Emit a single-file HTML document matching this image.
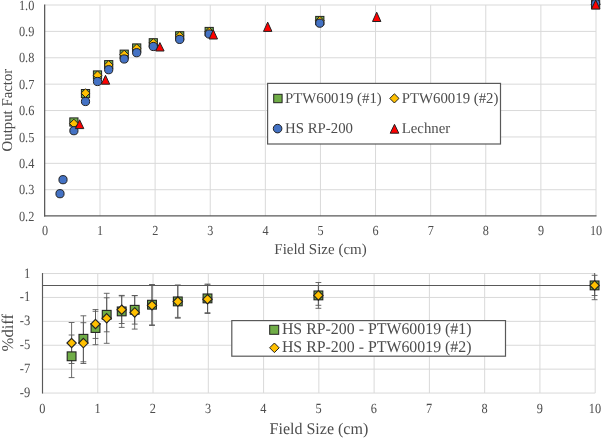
<!DOCTYPE html>
<html><head><meta charset="utf-8"><title>chart</title>
<style>html,body{margin:0;padding:0;background:#fff}svg{will-change:transform}text{text-rendering:geometricPrecision}body{width:602px;height:438px;overflow:hidden;font-family:"Liberation Serif",serif}</style></head>
<body>
<svg width="602" height="438" viewBox="0 0 602 438" style="display:block;font-family:'Liberation Serif',serif">
<rect width="602" height="438" fill="#fff"/>
<line x1="100.01" y1="5.00" x2="100.01" y2="216.12" stroke="#d9d9d9" stroke-width="1"/>
<line x1="155.12" y1="5.00" x2="155.12" y2="216.12" stroke="#d9d9d9" stroke-width="1"/>
<line x1="210.23" y1="5.00" x2="210.23" y2="216.12" stroke="#d9d9d9" stroke-width="1"/>
<line x1="265.34" y1="5.00" x2="265.34" y2="216.12" stroke="#d9d9d9" stroke-width="1"/>
<line x1="320.45" y1="5.00" x2="320.45" y2="216.12" stroke="#d9d9d9" stroke-width="1"/>
<line x1="375.56" y1="5.00" x2="375.56" y2="216.12" stroke="#d9d9d9" stroke-width="1"/>
<line x1="430.67" y1="5.00" x2="430.67" y2="216.12" stroke="#d9d9d9" stroke-width="1"/>
<line x1="485.78" y1="5.00" x2="485.78" y2="216.12" stroke="#d9d9d9" stroke-width="1"/>
<line x1="540.89" y1="5.00" x2="540.89" y2="216.12" stroke="#d9d9d9" stroke-width="1"/>
<line x1="596.00" y1="5.00" x2="596.00" y2="216.12" stroke="#d9d9d9" stroke-width="1"/>
<line x1="44.90" y1="189.73" x2="596.00" y2="189.73" stroke="#d9d9d9" stroke-width="1"/>
<line x1="44.90" y1="163.34" x2="596.00" y2="163.34" stroke="#d9d9d9" stroke-width="1"/>
<line x1="44.90" y1="136.95" x2="596.00" y2="136.95" stroke="#d9d9d9" stroke-width="1"/>
<line x1="44.90" y1="110.56" x2="596.00" y2="110.56" stroke="#d9d9d9" stroke-width="1"/>
<line x1="44.90" y1="84.17" x2="596.00" y2="84.17" stroke="#d9d9d9" stroke-width="1"/>
<line x1="44.90" y1="57.78" x2="596.00" y2="57.78" stroke="#d9d9d9" stroke-width="1"/>
<line x1="44.90" y1="31.39" x2="596.00" y2="31.39" stroke="#d9d9d9" stroke-width="1"/>
<line x1="44.90" y1="5.00" x2="596.00" y2="5.00" stroke="#d9d9d9" stroke-width="1"/>
<line x1="44.65" y1="4.40" x2="44.65" y2="216.45" stroke="#595959" stroke-width="1.25"/>
<line x1="44.05" y1="215.85" x2="596.50" y2="215.85" stroke="#595959" stroke-width="1.25"/>
<text transform="translate(34.30,220.72) scale(0.887,1)" font-size="13.9" fill="#4d4d4d" text-anchor="end">0.2</text>
<text transform="translate(34.30,194.33) scale(0.887,1)" font-size="13.9" fill="#4d4d4d" text-anchor="end">0.3</text>
<text transform="translate(34.30,167.94) scale(0.887,1)" font-size="13.9" fill="#4d4d4d" text-anchor="end">0.4</text>
<text transform="translate(34.30,141.55) scale(0.887,1)" font-size="13.9" fill="#4d4d4d" text-anchor="end">0.5</text>
<text transform="translate(34.30,115.16) scale(0.887,1)" font-size="13.9" fill="#4d4d4d" text-anchor="end">0.6</text>
<text transform="translate(34.30,88.77) scale(0.887,1)" font-size="13.9" fill="#4d4d4d" text-anchor="end">0.7</text>
<text transform="translate(34.30,62.38) scale(0.887,1)" font-size="13.9" fill="#4d4d4d" text-anchor="end">0.8</text>
<text transform="translate(34.30,35.99) scale(0.887,1)" font-size="13.9" fill="#4d4d4d" text-anchor="end">0.9</text>
<text transform="translate(34.30,9.60) scale(0.887,1)" font-size="13.9" fill="#4d4d4d" text-anchor="end">1.0</text>
<text transform="translate(45.00,234.85) scale(0.883,1)" font-size="13.8" fill="#4d4d4d" text-anchor="middle">0</text>
<text transform="translate(100.11,234.85) scale(0.883,1)" font-size="13.8" fill="#4d4d4d" text-anchor="middle">1</text>
<text transform="translate(155.22,234.85) scale(0.883,1)" font-size="13.8" fill="#4d4d4d" text-anchor="middle">2</text>
<text transform="translate(210.33,234.85) scale(0.883,1)" font-size="13.8" fill="#4d4d4d" text-anchor="middle">3</text>
<text transform="translate(265.44,234.85) scale(0.883,1)" font-size="13.8" fill="#4d4d4d" text-anchor="middle">4</text>
<text transform="translate(320.55,234.85) scale(0.883,1)" font-size="13.8" fill="#4d4d4d" text-anchor="middle">5</text>
<text transform="translate(375.66,234.85) scale(0.883,1)" font-size="13.8" fill="#4d4d4d" text-anchor="middle">6</text>
<text transform="translate(430.77,234.85) scale(0.883,1)" font-size="13.8" fill="#4d4d4d" text-anchor="middle">7</text>
<text transform="translate(485.88,234.85) scale(0.883,1)" font-size="13.8" fill="#4d4d4d" text-anchor="middle">8</text>
<text transform="translate(540.99,234.85) scale(0.883,1)" font-size="13.8" fill="#4d4d4d" text-anchor="middle">9</text>
<text transform="translate(596.10,234.85) scale(0.883,1)" font-size="13.8" fill="#4d4d4d" text-anchor="middle">10</text>
<text transform="translate(320.50,254.30) scale(0.996,1)" font-size="15.05" fill="#4d4d4d" text-anchor="middle">Field Size (cm)</text>
<text transform="translate(11.60,110.10) rotate(-90) scale(0.985,1)" font-size="15.05" fill="#4d4d4d" text-anchor="middle">Output Factor</text>
<rect x="69.80" y="117.90" width="8.2" height="8.2" fill="#70ad47" stroke="#222222" stroke-width="1.0"/>
<rect x="81.40" y="89.50" width="8.2" height="8.2" fill="#70ad47" stroke="#222222" stroke-width="1.0"/>
<rect x="93.40" y="70.90" width="8.2" height="8.2" fill="#70ad47" stroke="#222222" stroke-width="1.0"/>
<rect x="104.60" y="60.60" width="8.2" height="8.2" fill="#70ad47" stroke="#222222" stroke-width="1.0"/>
<rect x="120.10" y="50.10" width="8.2" height="8.2" fill="#70ad47" stroke="#222222" stroke-width="1.0"/>
<rect x="132.60" y="43.90" width="8.2" height="8.2" fill="#70ad47" stroke="#222222" stroke-width="1.0"/>
<rect x="149.20" y="38.70" width="8.2" height="8.2" fill="#70ad47" stroke="#222222" stroke-width="1.0"/>
<rect x="175.60" y="31.70" width="8.2" height="8.2" fill="#70ad47" stroke="#222222" stroke-width="1.0"/>
<rect x="205.10" y="27.40" width="8.2" height="8.2" fill="#70ad47" stroke="#222222" stroke-width="1.0"/>
<rect x="315.70" y="16.40" width="8.2" height="8.2" fill="#70ad47" stroke="#222222" stroke-width="1.0"/>
<rect x="591.50" y="0.60" width="8.2" height="8.2" fill="#70ad47" stroke="#222222" stroke-width="1.0"/>
<path d="M73.90 119.20L78.30 123.60L73.90 128.00L69.50 123.60Z" fill="#ffc000" stroke="#222222" stroke-width="1.0" stroke-linejoin="miter"/>
<path d="M85.50 88.70L89.90 93.10L85.50 97.50L81.10 93.10Z" fill="#ffc000" stroke="#222222" stroke-width="1.0" stroke-linejoin="miter"/>
<path d="M97.50 70.90L101.90 75.30L97.50 79.70L93.10 75.30Z" fill="#ffc000" stroke="#222222" stroke-width="1.0" stroke-linejoin="miter"/>
<path d="M108.70 60.60L113.10 65.00L108.70 69.40L104.30 65.00Z" fill="#ffc000" stroke="#222222" stroke-width="1.0" stroke-linejoin="miter"/>
<path d="M124.20 50.20L128.60 54.60L124.20 59.00L119.80 54.60Z" fill="#ffc000" stroke="#222222" stroke-width="1.0" stroke-linejoin="miter"/>
<path d="M136.70 43.90L141.10 48.30L136.70 52.70L132.30 48.30Z" fill="#ffc000" stroke="#222222" stroke-width="1.0" stroke-linejoin="miter"/>
<path d="M153.30 38.60L157.70 43.00L153.30 47.40L148.90 43.00Z" fill="#ffc000" stroke="#222222" stroke-width="1.0" stroke-linejoin="miter"/>
<path d="M179.70 31.60L184.10 36.00L179.70 40.40L175.30 36.00Z" fill="#ffc000" stroke="#222222" stroke-width="1.0" stroke-linejoin="miter"/>
<path d="M209.20 27.30L213.60 31.70L209.20 36.10L204.80 31.70Z" fill="#ffc000" stroke="#222222" stroke-width="1.0" stroke-linejoin="miter"/>
<path d="M319.80 16.30L324.20 20.70L319.80 25.10L315.40 20.70Z" fill="#ffc000" stroke="#222222" stroke-width="1.0" stroke-linejoin="miter"/>
<path d="M595.60 0.20L600.00 4.60L595.60 9.00L591.20 4.60Z" fill="#ffc000" stroke="#222222" stroke-width="1.0" stroke-linejoin="miter"/>
<circle cx="60.00" cy="193.70" r="4.1" fill="#4472c4" stroke="#222222" stroke-width="1.0"/>
<circle cx="63.00" cy="179.70" r="4.1" fill="#4472c4" stroke="#222222" stroke-width="1.0"/>
<circle cx="73.90" cy="130.70" r="4.1" fill="#4472c4" stroke="#222222" stroke-width="1.0"/>
<circle cx="85.50" cy="101.50" r="4.1" fill="#4472c4" stroke="#222222" stroke-width="1.0"/>
<circle cx="97.50" cy="81.50" r="4.1" fill="#4472c4" stroke="#222222" stroke-width="1.0"/>
<circle cx="108.70" cy="69.70" r="4.1" fill="#4472c4" stroke="#222222" stroke-width="1.0"/>
<circle cx="124.20" cy="59.00" r="4.1" fill="#4472c4" stroke="#222222" stroke-width="1.0"/>
<circle cx="136.70" cy="52.70" r="4.1" fill="#4472c4" stroke="#222222" stroke-width="1.0"/>
<circle cx="153.30" cy="46.50" r="4.1" fill="#4472c4" stroke="#222222" stroke-width="1.0"/>
<circle cx="179.70" cy="39.40" r="4.1" fill="#4472c4" stroke="#222222" stroke-width="1.0"/>
<circle cx="209.20" cy="34.00" r="4.1" fill="#4472c4" stroke="#222222" stroke-width="1.0"/>
<circle cx="319.80" cy="23.20" r="4.1" fill="#4472c4" stroke="#222222" stroke-width="1.0"/>
<circle cx="595.60" cy="3.70" r="4.1" fill="#4472c4" stroke="#222222" stroke-width="1.0"/>
<path d="M79.60 119.80L83.80 128.60L75.40 128.60Z" fill="#ff0000" stroke="#222222" stroke-width="1.0" stroke-linejoin="miter"/>
<path d="M105.50 75.30L109.70 84.20L101.30 84.20Z" fill="#ff0000" stroke="#222222" stroke-width="1.0" stroke-linejoin="miter"/>
<path d="M159.90 42.60L164.10 51.00L155.70 51.00Z" fill="#ff0000" stroke="#222222" stroke-width="1.0" stroke-linejoin="miter"/>
<path d="M213.30 29.80L217.50 39.00L209.10 39.00Z" fill="#ff0000" stroke="#222222" stroke-width="1.0" stroke-linejoin="miter"/>
<path d="M267.70 22.10L271.90 31.40L263.50 31.40Z" fill="#ff0000" stroke="#222222" stroke-width="1.0" stroke-linejoin="miter"/>
<path d="M376.70 12.20L380.90 21.50L372.50 21.50Z" fill="#ff0000" stroke="#222222" stroke-width="1.0" stroke-linejoin="miter"/>
<path d="M595.70 0.00L599.90 9.00L591.50 9.00Z" fill="#ff0000" stroke="#222222" stroke-width="1.0" stroke-linejoin="miter"/>
<rect x="267.6" y="83.4" width="232.9" height="60.6" fill="#fff" stroke="#595959" stroke-width="1.2"/>
<rect x="273.70" y="94.30" width="8.4" height="8.4" fill="#70ad47" stroke="#222222" stroke-width="1.0"/>
<path d="M394.40 93.80L399.00 98.40L394.40 103.00L389.80 98.40Z" fill="#ffc000" stroke="#222222" stroke-width="1.0" stroke-linejoin="miter"/>
<circle cx="277.60" cy="128.60" r="4.3" fill="#4472c4" stroke="#222222" stroke-width="1.0"/>
<path d="M394.50 124.30L398.80 133.20L390.20 133.20Z" fill="#ff0000" stroke="#222222" stroke-width="1.0" stroke-linejoin="miter"/>
<text transform="translate(285.00,103.20) scale(0.985,1)" font-size="15.05" fill="#4d4d4d" text-anchor="start">PTW60019 (#1)</text>
<text transform="translate(401.70,103.20) scale(0.985,1)" font-size="15.05" fill="#4d4d4d" text-anchor="start">PTW60019 (#2)</text>
<text transform="translate(285.00,133.20) scale(0.985,1)" font-size="15.05" fill="#4d4d4d" text-anchor="start">HS RP-200</text>
<text transform="translate(401.70,133.20) scale(0.985,1)" font-size="15.05" fill="#4d4d4d" text-anchor="start">Lechner</text>
<defs><clipPath id="bc"><rect x="40" y="272.9" width="562" height="125"/></clipPath></defs>
<line x1="97.77" y1="273.55" x2="97.77" y2="393.05" stroke="#d9d9d9" stroke-width="1"/>
<line x1="153.04" y1="273.55" x2="153.04" y2="393.05" stroke="#d9d9d9" stroke-width="1"/>
<line x1="208.31" y1="273.55" x2="208.31" y2="393.05" stroke="#d9d9d9" stroke-width="1"/>
<line x1="263.58" y1="273.55" x2="263.58" y2="393.05" stroke="#d9d9d9" stroke-width="1"/>
<line x1="318.85" y1="273.55" x2="318.85" y2="393.05" stroke="#d9d9d9" stroke-width="1"/>
<line x1="374.12" y1="273.55" x2="374.12" y2="393.05" stroke="#d9d9d9" stroke-width="1"/>
<line x1="429.39" y1="273.55" x2="429.39" y2="393.05" stroke="#d9d9d9" stroke-width="1"/>
<line x1="484.66" y1="273.55" x2="484.66" y2="393.05" stroke="#d9d9d9" stroke-width="1"/>
<line x1="539.93" y1="273.55" x2="539.93" y2="393.05" stroke="#d9d9d9" stroke-width="1"/>
<line x1="595.20" y1="273.55" x2="595.20" y2="393.05" stroke="#d9d9d9" stroke-width="1"/>
<line x1="42.50" y1="273.55" x2="595.20" y2="273.55" stroke="#d9d9d9" stroke-width="1"/>
<line x1="42.50" y1="297.45" x2="595.20" y2="297.45" stroke="#d9d9d9" stroke-width="1"/>
<line x1="42.50" y1="321.35" x2="595.20" y2="321.35" stroke="#d9d9d9" stroke-width="1"/>
<line x1="42.50" y1="345.25" x2="595.20" y2="345.25" stroke="#d9d9d9" stroke-width="1"/>
<line x1="42.50" y1="369.15" x2="595.20" y2="369.15" stroke="#d9d9d9" stroke-width="1"/>
<line x1="42.50" y1="393.05" x2="595.20" y2="393.05" stroke="#d9d9d9" stroke-width="1"/>
<line x1="42.50" y1="273.05" x2="42.50" y2="393.55" stroke="#595959" stroke-width="1.15"/>
<line x1="42.50" y1="285.50" x2="595.70" y2="285.50" stroke="#595959" stroke-width="1.15"/>
<text transform="translate(30.35,277.55) scale(0.88,1)" font-size="14.3" fill="#4d4d4d" text-anchor="end">1</text>
<text transform="translate(30.35,301.45) scale(0.88,1)" font-size="14.3" fill="#4d4d4d" text-anchor="end">-1</text>
<text transform="translate(30.35,325.35) scale(0.88,1)" font-size="14.3" fill="#4d4d4d" text-anchor="end">-3</text>
<text transform="translate(30.35,349.25) scale(0.88,1)" font-size="14.3" fill="#4d4d4d" text-anchor="end">-5</text>
<text transform="translate(30.35,373.15) scale(0.88,1)" font-size="14.3" fill="#4d4d4d" text-anchor="end">-7</text>
<text transform="translate(30.35,397.05) scale(0.88,1)" font-size="14.3" fill="#4d4d4d" text-anchor="end">-9</text>
<text transform="translate(42.30,412.85) scale(0.88,1)" font-size="14.0" fill="#4d4d4d" text-anchor="middle">0</text>
<text transform="translate(97.57,412.85) scale(0.88,1)" font-size="14.0" fill="#4d4d4d" text-anchor="middle">1</text>
<text transform="translate(152.84,412.85) scale(0.88,1)" font-size="14.0" fill="#4d4d4d" text-anchor="middle">2</text>
<text transform="translate(208.11,412.85) scale(0.88,1)" font-size="14.0" fill="#4d4d4d" text-anchor="middle">3</text>
<text transform="translate(263.38,412.85) scale(0.88,1)" font-size="14.0" fill="#4d4d4d" text-anchor="middle">4</text>
<text transform="translate(318.65,412.85) scale(0.88,1)" font-size="14.0" fill="#4d4d4d" text-anchor="middle">5</text>
<text transform="translate(373.92,412.85) scale(0.88,1)" font-size="14.0" fill="#4d4d4d" text-anchor="middle">6</text>
<text transform="translate(429.19,412.85) scale(0.88,1)" font-size="14.0" fill="#4d4d4d" text-anchor="middle">7</text>
<text transform="translate(484.46,412.85) scale(0.88,1)" font-size="14.0" fill="#4d4d4d" text-anchor="middle">8</text>
<text transform="translate(539.73,412.85) scale(0.88,1)" font-size="14.0" fill="#4d4d4d" text-anchor="middle">9</text>
<text transform="translate(595.00,412.85) scale(0.88,1)" font-size="14.0" fill="#4d4d4d" text-anchor="middle">10</text>
<text transform="translate(318.90,433.60) scale(0.983,1)" font-size="16.3" fill="#4d4d4d" text-anchor="middle">Field Size (cm)</text>
<text transform="translate(13.00,332.65) rotate(-90) scale(1.02,1)" font-size="16.3" fill="#4d4d4d" text-anchor="middle">%diff</text>
<path d="M71.60 335.00V377.60M68.70 335.00H74.50M68.70 377.60H74.50" stroke="#595959" stroke-width="0.9" fill="none" clip-path="url(#bc)"/>
<path d="M83.40 315.80V361.80M80.50 315.80H86.30M80.50 361.80H86.30" stroke="#595959" stroke-width="0.9" fill="none" clip-path="url(#bc)"/>
<path d="M95.50 311.30V344.70M92.60 311.30H98.40M92.60 344.70H98.40" stroke="#595959" stroke-width="0.9" fill="none" clip-path="url(#bc)"/>
<path d="M106.70 297.80V331.80M103.80 297.80H109.60M103.80 331.80H109.60" stroke="#595959" stroke-width="0.9" fill="none" clip-path="url(#bc)"/>
<path d="M121.70 295.40V327.40M118.80 295.40H124.60M118.80 327.40H124.60" stroke="#595959" stroke-width="0.9" fill="none" clip-path="url(#bc)"/>
<path d="M134.70 295.50V324.10M131.80 295.50H137.60M131.80 324.10H137.60" stroke="#595959" stroke-width="0.9" fill="none" clip-path="url(#bc)"/>
<path d="M152.00 284.50V324.90M149.10 284.50H154.90M149.10 324.90H154.90" stroke="#595959" stroke-width="0.9" fill="none" clip-path="url(#bc)"/>
<path d="M177.80 285.40V317.40M174.90 285.40H180.70M174.90 317.40H180.70" stroke="#595959" stroke-width="0.9" fill="none" clip-path="url(#bc)"/>
<path d="M207.50 284.10V312.70M204.60 284.10H210.40M204.60 312.70H210.40" stroke="#595959" stroke-width="0.9" fill="none" clip-path="url(#bc)"/>
<path d="M318.40 285.50V305.30M315.50 285.50H321.30M315.50 305.30H321.30" stroke="#595959" stroke-width="0.9" fill="none" clip-path="url(#bc)"/>
<path d="M594.60 275.30V295.50M591.70 275.30H597.50M591.70 295.50H597.50" stroke="#595959" stroke-width="0.9" fill="none" clip-path="url(#bc)"/>
<path d="M71.60 322.50V363.50M68.70 322.50H74.50M68.70 363.50H74.50" stroke="#595959" stroke-width="0.9" fill="none" clip-path="url(#bc)"/>
<path d="M83.40 322.70V363.50M80.50 322.70H86.30M80.50 363.50H86.30" stroke="#595959" stroke-width="0.9" fill="none" clip-path="url(#bc)"/>
<path d="M95.50 309.55V338.45M92.60 309.55H98.40M92.60 338.45H98.40" stroke="#595959" stroke-width="0.9" fill="none" clip-path="url(#bc)"/>
<path d="M106.70 293.30V343.30M103.80 293.30H109.60M103.80 343.30H109.60" stroke="#595959" stroke-width="0.9" fill="none" clip-path="url(#bc)"/>
<path d="M121.70 295.90V323.50M118.80 295.90H124.60M118.80 323.50H124.60" stroke="#595959" stroke-width="0.9" fill="none" clip-path="url(#bc)"/>
<path d="M134.70 295.70V329.10M131.80 295.70H137.60M131.80 329.10H137.60" stroke="#595959" stroke-width="0.9" fill="none" clip-path="url(#bc)"/>
<path d="M152.00 285.10V325.50M149.10 285.10H154.90M149.10 325.50H154.90" stroke="#595959" stroke-width="0.9" fill="none" clip-path="url(#bc)"/>
<path d="M177.80 285.00V318.20M174.90 285.00H180.70M174.90 318.20H180.70" stroke="#595959" stroke-width="0.9" fill="none" clip-path="url(#bc)"/>
<path d="M207.50 284.90V313.50M204.60 284.90H210.40M204.60 313.50H210.40" stroke="#595959" stroke-width="0.9" fill="none" clip-path="url(#bc)"/>
<path d="M318.40 282.50V308.30M315.50 282.50H321.30M315.50 308.30H321.30" stroke="#595959" stroke-width="0.9" fill="none" clip-path="url(#bc)"/>
<path d="M594.60 271.10V299.70M591.70 271.10H597.50M591.70 299.70H597.50" stroke="#595959" stroke-width="0.9" fill="none" clip-path="url(#bc)"/>
<rect x="67.20" y="351.90" width="8.8" height="8.8" fill="#70ad47" stroke="#222222" stroke-width="1.1"/>
<rect x="79.00" y="334.40" width="8.8" height="8.8" fill="#70ad47" stroke="#222222" stroke-width="1.1"/>
<rect x="91.10" y="323.60" width="8.8" height="8.8" fill="#70ad47" stroke="#222222" stroke-width="1.1"/>
<rect x="102.30" y="310.40" width="8.8" height="8.8" fill="#70ad47" stroke="#222222" stroke-width="1.1"/>
<rect x="117.30" y="307.00" width="8.8" height="8.8" fill="#70ad47" stroke="#222222" stroke-width="1.1"/>
<rect x="130.30" y="305.40" width="8.8" height="8.8" fill="#70ad47" stroke="#222222" stroke-width="1.1"/>
<rect x="147.60" y="300.30" width="8.8" height="8.8" fill="#70ad47" stroke="#222222" stroke-width="1.1"/>
<rect x="173.40" y="297.00" width="8.8" height="8.8" fill="#70ad47" stroke="#222222" stroke-width="1.1"/>
<rect x="203.10" y="294.00" width="8.8" height="8.8" fill="#70ad47" stroke="#222222" stroke-width="1.1"/>
<rect x="314.00" y="291.00" width="8.8" height="8.8" fill="#70ad47" stroke="#222222" stroke-width="1.1"/>
<rect x="590.20" y="281.00" width="8.8" height="8.8" fill="#70ad47" stroke="#222222" stroke-width="1.1"/>
<path d="M71.60 338.30L76.30 343.00L71.60 347.70L66.90 343.00Z" fill="#ffc000" stroke="#222222" stroke-width="1.1" stroke-linejoin="miter"/>
<path d="M83.40 338.40L88.10 343.10L83.40 347.80L78.70 343.10Z" fill="#ffc000" stroke="#222222" stroke-width="1.1" stroke-linejoin="miter"/>
<path d="M95.50 319.30L100.20 324.00L95.50 328.70L90.80 324.00Z" fill="#ffc000" stroke="#222222" stroke-width="1.1" stroke-linejoin="miter"/>
<path d="M106.70 313.60L111.40 318.30L106.70 323.00L102.00 318.30Z" fill="#ffc000" stroke="#222222" stroke-width="1.1" stroke-linejoin="miter"/>
<path d="M121.70 305.00L126.40 309.70L121.70 314.40L117.00 309.70Z" fill="#ffc000" stroke="#222222" stroke-width="1.1" stroke-linejoin="miter"/>
<path d="M134.70 307.70L139.40 312.40L134.70 317.10L130.00 312.40Z" fill="#ffc000" stroke="#222222" stroke-width="1.1" stroke-linejoin="miter"/>
<path d="M152.00 300.60L156.70 305.30L152.00 310.00L147.30 305.30Z" fill="#ffc000" stroke="#222222" stroke-width="1.1" stroke-linejoin="miter"/>
<path d="M177.80 296.90L182.50 301.60L177.80 306.30L173.10 301.60Z" fill="#ffc000" stroke="#222222" stroke-width="1.1" stroke-linejoin="miter"/>
<path d="M207.50 294.50L212.20 299.20L207.50 303.90L202.80 299.20Z" fill="#ffc000" stroke="#222222" stroke-width="1.1" stroke-linejoin="miter"/>
<path d="M318.40 290.70L323.10 295.40L318.40 300.10L313.70 295.40Z" fill="#ffc000" stroke="#222222" stroke-width="1.1" stroke-linejoin="miter"/>
<path d="M594.60 280.70L599.30 285.40L594.60 290.10L589.90 285.40Z" fill="#ffc000" stroke="#222222" stroke-width="1.1" stroke-linejoin="miter"/>
<rect x="231.8" y="320.6" width="273.7" height="35.6" fill="#fff" stroke="#595959" stroke-width="1.2"/>
<rect x="269.70" y="325.30" width="9.0" height="9.0" fill="#70ad47" stroke="#222222" stroke-width="1.0"/>
<path d="M274.40 343.00L279.20 347.80L274.40 352.60L269.60 347.80Z" fill="#ffc000" stroke="#222222" stroke-width="1.0" stroke-linejoin="miter"/>
<text transform="translate(281.90,334.30) scale(0.975,1)" font-size="16.3" fill="#4d4d4d" text-anchor="start">HS RP-200 - PTW60019 (#1)</text>
<text transform="translate(281.90,352.10) scale(0.975,1)" font-size="16.3" fill="#4d4d4d" text-anchor="start">HS RP-200 - PTW60019 (#2)</text>
</svg>
</body></html>
